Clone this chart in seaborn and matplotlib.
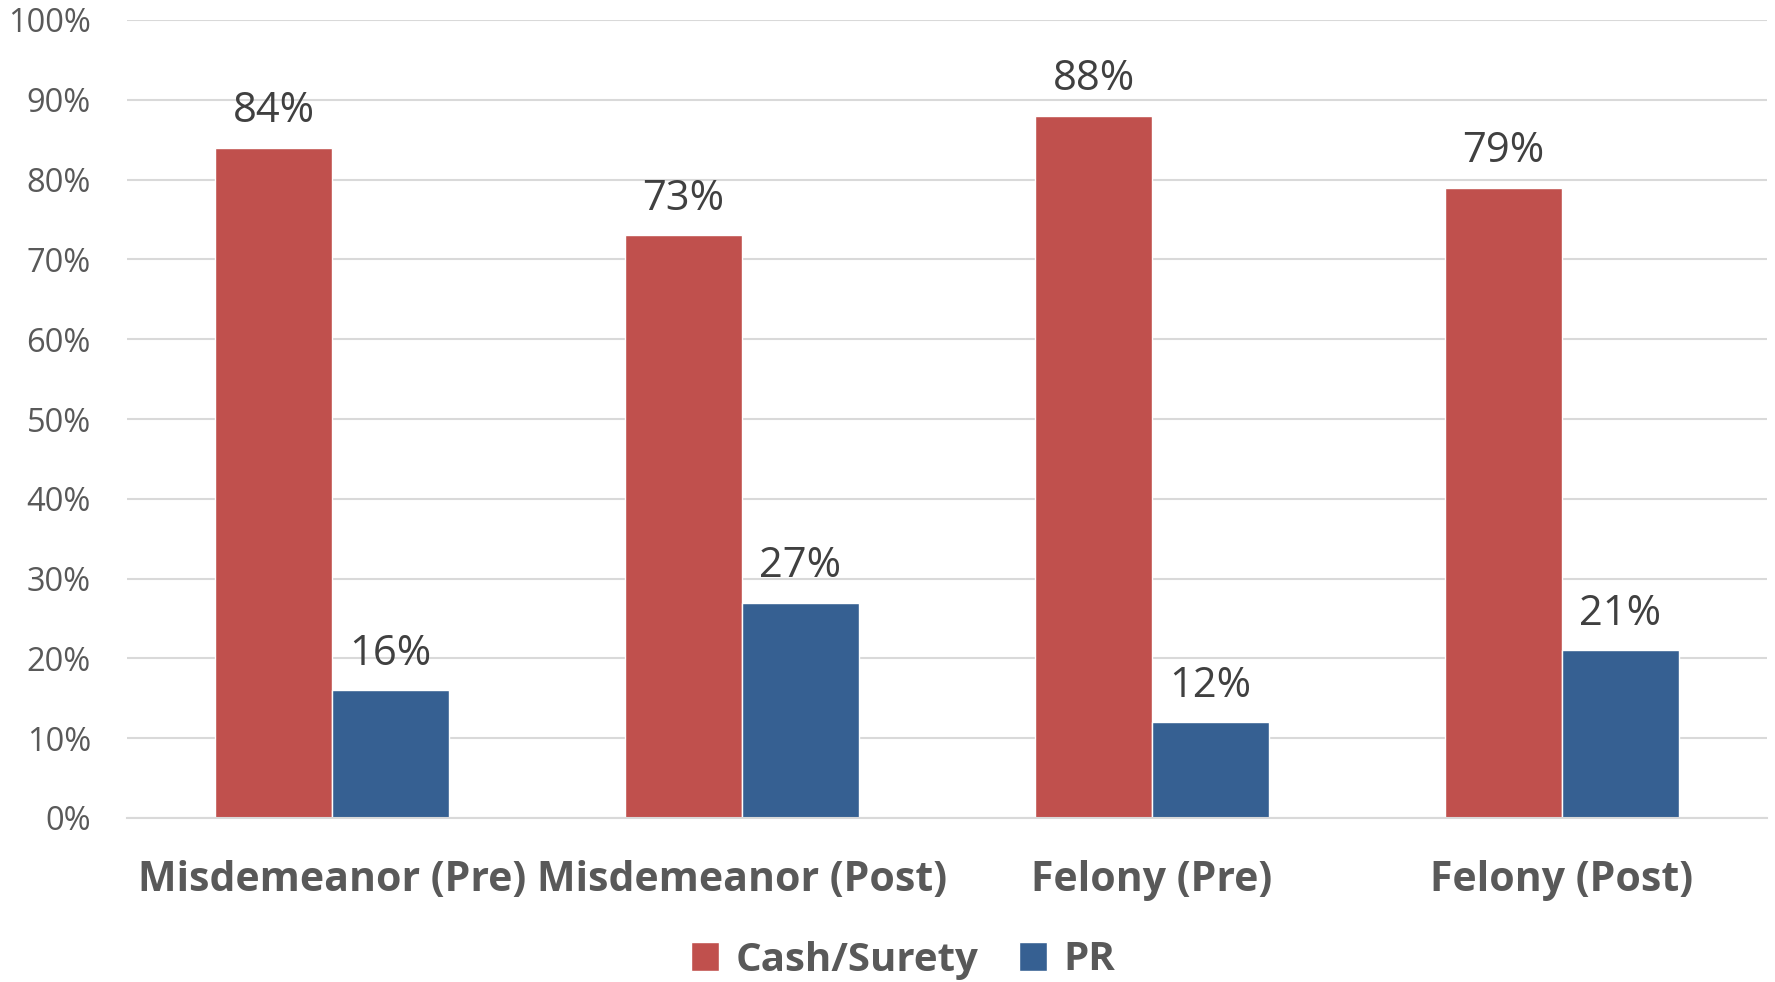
import pandas as pd
import matplotlib
matplotlib.use('Agg')
import matplotlib.pyplot as plt
import seaborn as sns

categories = ['Misdemeanor (Pre)', 'Misdemeanor (Post)', 'Felony (Pre)', 'Felony (Post)']
cash_surety = [84, 73, 88, 79]
pr = [16, 27, 12, 21]
series_names = ['Cash/Surety', 'PR']
y_ticks = [0, 10, 20, 30, 40, 50, 60, 70, 80, 90, 100]

df = pd.DataFrame({
    'category': categories * 2,
    'type': [series_names[0]] * 4 + [series_names[1]] * 4,
    'value': cash_surety + pr,
})

sns.set_theme(style='white')
plt.rcParams['font.family'] = ['Open Sans', 'DejaVu Sans']

fig = plt.figure(figsize=(17.75, 9.82), dpi=100)
ax = fig.add_axes([127 / 1775, 1 - 818 / 982, 1640 / 1775, 798 / 982])

sns.barplot(data=df, x='category', y='value', hue='type', order=categories,
            hue_order=series_names, palette=['#C0504D', '#366092'],
            width=0.57, saturation=1, ax=ax, legend=True)

# percent labels above the bars
for cont in ax.containers:
    ax.bar_label(cont, labels=[f'{int(v)}%' for v in cont.datavalues],
                 padding=11, fontsize=30, color='#404040')

ax.set_ylim(0, 100)
ax.set_xlim(-0.5, 3.5)
ax.set_yticks(y_ticks)
ax.set_yticklabels([f'{t}%' for t in y_ticks], fontsize=23.5, color='#595959')
ax.tick_params(axis='y', length=0, pad=26)
ax.tick_params(axis='x', length=0, pad=30)
for lab in ax.get_xticklabels():
    lab.set_fontsize(29.5)
    lab.set_fontweight('bold')
    lab.set_color('#595959')
ax.set_xlabel('')
ax.set_ylabel('')
ax.yaxis.grid(True, color='#D9D9D9', linewidth=1.5)
ax.set_axisbelow(True)
for s in ['top', 'right', 'left']:
    ax.spines[s].set_visible(False)
ax.spines['bottom'].set_color('#D9D9D9')
ax.spines['bottom'].set_linewidth(1.5)

ax.legend(loc='center', bbox_to_anchor=(903 / 1775, 1 - 960 / 982),
          bbox_transform=fig.transFigure, ncol=2, frameon=False,
          prop={'size': 29, 'weight': 'bold'}, labelcolor='#595959',
          handlelength=0.7, handleheight=0.7, handletextpad=0.4, columnspacing=1.0)

fig.savefig('out.png', dpi=100)
